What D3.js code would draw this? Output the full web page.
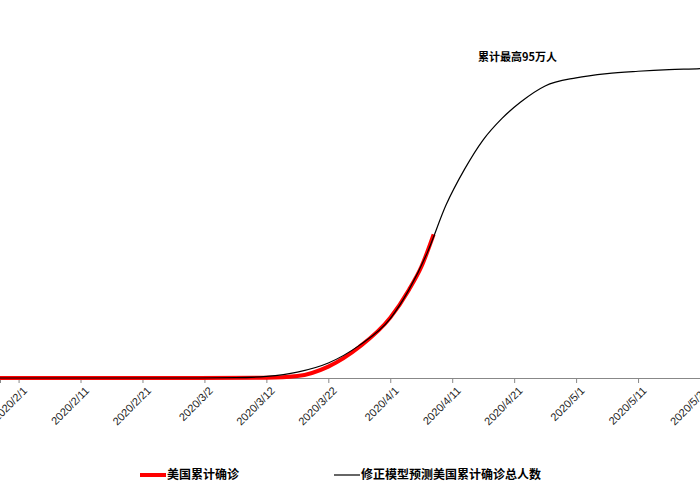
<!DOCTYPE html>
<html><head><meta charset="utf-8">
<script src="https://cdn.jsdelivr.net/npm/d3@7"></script>
<style>body{margin:0;background:#fff}</style>
</head><body>
<svg id="chart" width="700" height="500"></svg>
<script>
// 修正模型预测 (万人)
const modelDates = ["2020/1/29","2020/2/15","2020/3/1","2020/3/7","2020/3/12","2020/3/17","2020/3/22","2020/3/27","2020/4/1","2020/4/4","2020/4/7","2020/4/10","2020/4/13","2020/4/16","2020/4/19","2020/4/22","2020/4/26","2020/5/1","2020/5/6","2020/5/11","2020/5/16","2020/5/21","2020/5/23"];
const modelValues = [0,0,0,0.1,0.5,1.8,4.6,10,18.2,27,38.5,53,64,73,79.5,84.5,89.5,92,93.3,94,94.5,94.8,95];
// 美国累计确诊 (万人)
const actualDates = ["2020/1/29","2020/2/15","2020/3/1","2020/3/12","2020/3/17","2020/3/22","2020/3/27","2020/4/1","2020/4/4","2020/4/6","2020/4/8"];
const actualValues = [0,0,0,0.1,0.6,3.5,9.5,18.5,27,34,44];
const tickLabels = ["2020/2/1","2020/2/11","2020/2/21","2020/3/2","2020/3/12","2020/3/22","2020/4/1","2020/4/11","2020/4/21","2020/5/1","2020/5/11","2020/5/21"];

const parse = d3.timeParse("%Y/%-m/%-d");
const svg = d3.select("#chart");
const x = d3.scaleTime().domain([parse("2020/1/29"), parse("2020/5/21")]).range([0, 700]);
const y = d3.scaleLinear().domain([0, 95]).range([378, 68]);

const xAxis = svg.append("g").attr("transform", "translate(0,378)")
    .call(d3.axisBottom(x).tickValues(tickLabels.map(parse)).tickFormat(d3.timeFormat("%Y/%-m/%-d")).tickSize(5));
xAxis.select(".domain").attr("stroke", "#888");
xAxis.selectAll(".tick line").attr("stroke", "#888");
xAxis.selectAll("text")
    .attr("font-family", "Liberation Sans, Arial, sans-serif").attr("font-size", 11).attr("fill", "#222")
    .attr("text-anchor", "end").attr("dx", "-0.3em").attr("dy", "0.7em")
    .attr("transform", "rotate(-45)");

const line = d3.line().x(d => x(parse(d[0]))).y(d => y(d[1])).curve(d3.curveMonotoneX);

svg.append("path").datum(d3.zip(actualDates, actualValues))
    .attr("d", line).attr("fill", "none").attr("stroke", "#ff0000").attr("stroke-width", 4);
svg.append("path").datum(d3.zip(modelDates, modelValues))
    .attr("d", line).attr("fill", "none").attr("stroke", "#000").attr("stroke-width", 1.2);

svg.append("text").attr("x", 478).attr("y", 61).text("累计最高95万人")
    .attr("font-family", "Noto Sans CJK SC").attr("font-size", 11).attr("font-weight", "bold");

// legend
const legend = svg.append("g").attr("font-family", "Noto Sans CJK SC").attr("font-size", 12).attr("font-weight", "bold");
legend.append("line").attr("x1", 140).attr("x2", 166).attr("y1", 475).attr("y2", 475).attr("stroke", "#ff0000").attr("stroke-width", 4);
legend.append("text").attr("x", 167).attr("y", 479).text("美国累计确诊");
legend.append("line").attr("x1", 334).attr("x2", 360).attr("y1", 475).attr("y2", 475).attr("stroke", "#000").attr("stroke-width", 1.2);
legend.append("text").attr("x", 361).attr("y", 479).text("修正模型预测美国累计确诊总人数");
</script>
</body></html>
